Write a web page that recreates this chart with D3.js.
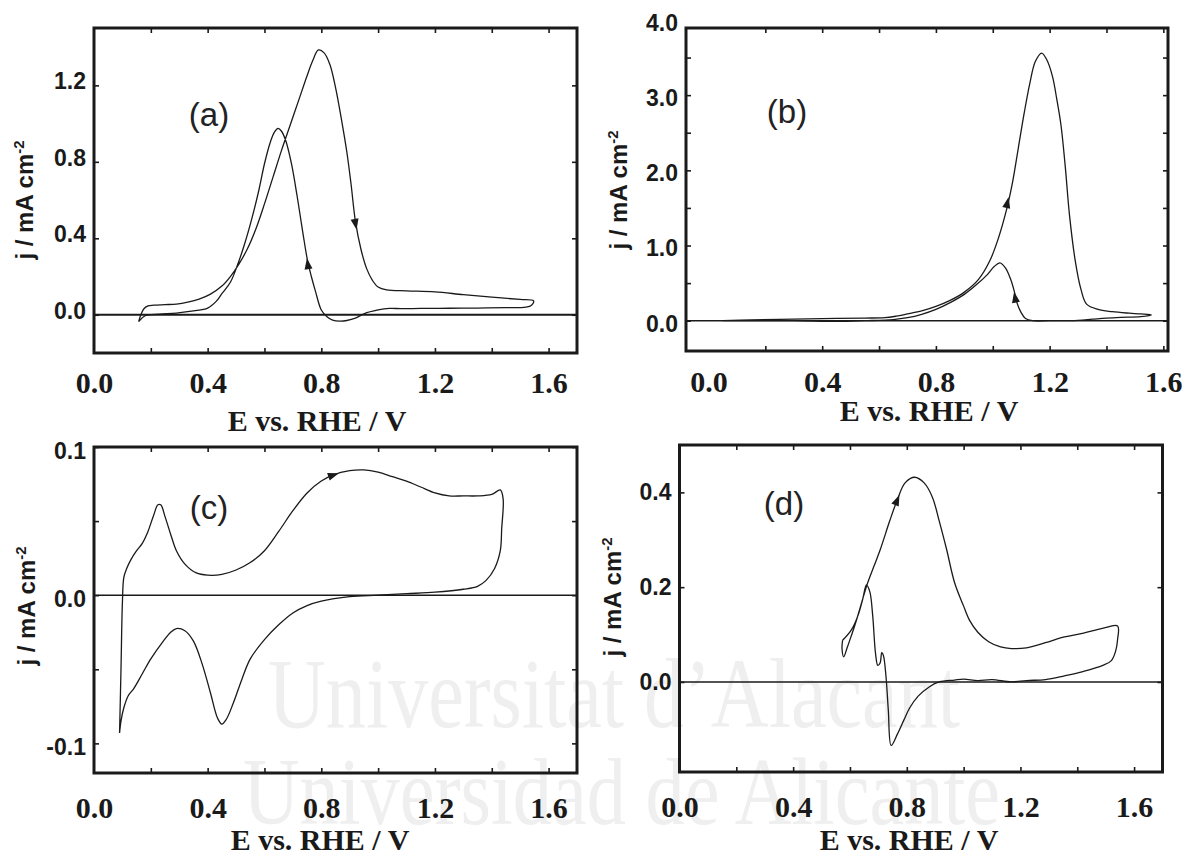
<!DOCTYPE html>
<html>
<head>
<meta charset="utf-8">
<script src="https://cdn.jsdelivr.net/npm/d3@7"></script>
<style>
  body { margin: 0; background: #fff; }
  svg { display: block; }
  .ylab { font-family: "Liberation Sans", Arial, sans-serif; font-weight: bold; font-size: 23px; fill: #1a1a1a; }
  .xlab { font-family: "Liberation Serif", "Times New Roman", serif; font-weight: bold; font-size: 30px; fill: #1a1a1a; }
  .xtitle { font-family: "Liberation Serif", "Times New Roman", serif; font-weight: bold; font-size: 30px; fill: #1a1a1a; }
  .ytitle { font-family: "Liberation Sans", Arial, sans-serif; font-weight: bold; font-size: 24px; fill: #1a1a1a; }
  .letter { font-family: "Liberation Sans", Arial, sans-serif; font-size: 33px; fill: #222; }
  .wm { font-family: "Liberation Serif", "Times New Roman", serif; fill: #efefef; }
</style>
</head>
<body>
<svg id="fig" width="1185" height="857"></svg>
<script>
// ---------- axis values ----------
const xLabelValues = [0.0, 0.4, 0.8, 1.2, 1.6];
const xTickValues = [0.2, 0.4, 0.6, 0.8, 1.0, 1.2, 1.4, 1.6];

const yLabelsA = [0.0, 0.4, 0.8, 1.2];
const yTicksA  = [0.0, 0.4, 0.8, 1.2];
const yLabelsB = [0.0, 1.0, 2.0, 3.0, 4.0];
const yTicksB  = [0.0, 0.5, 1.0, 1.5, 2.0, 2.5, 3.0, 3.5];
const yLabelsC = [-0.1, 0.0, 0.1];
const yTicksC  = [-0.1, -0.05, 0.0, 0.05, 0.1];
const yLabelsD = [0.0, 0.2, 0.4];
const yTicksD  = [-0.2, 0.0, 0.2, 0.4];

// ---------- voltammograms: [E / V, j / mA cm-2] ----------
const curveA = [
  [0.157,-0.036],[0.165,0.000],[0.175,0.030],[0.19,0.046],[0.21,0.050],[0.25,0.053],
  [0.29,0.056],[0.33,0.066],[0.37,0.082],[0.41,0.108],[0.45,0.150],[0.48,0.200],
  [0.51,0.265],[0.54,0.345],[0.57,0.45],[0.60,0.58],[0.63,0.72],[0.66,0.86],
  [0.69,0.99],[0.72,1.12],[0.75,1.25],[0.77,1.33],[0.79,1.385],[0.81,1.37],
  [0.83,1.31],[0.85,1.19],[0.87,1.03],[0.89,0.85],[0.905,0.68],[0.92,0.49],
  [0.94,0.34],[0.96,0.24],[0.98,0.18],[1.00,0.145],[1.03,0.13],[1.10,0.125],
  [1.20,0.12],[1.30,0.105],[1.40,0.092],[1.50,0.08],[1.547,0.073],
  [1.54,0.05],[1.52,0.04],[1.45,0.037],[1.35,0.035],[1.25,0.034],[1.15,0.033],
  [1.08,0.032],[1.04,0.033],[1.00,0.025],[0.95,0.005],[0.92,-0.018],[0.89,-0.03],
  [0.865,-0.033],[0.84,-0.028],[0.82,-0.01],[0.80,0.025],[0.78,0.12],[0.765,0.2],
  [0.752,0.28],[0.735,0.43],[0.715,0.62],[0.695,0.79],[0.675,0.91],[0.66,0.96],
  [0.648,0.975],[0.635,0.955],[0.62,0.90],[0.60,0.79],[0.58,0.65],[0.555,0.50],
  [0.53,0.37],[0.505,0.26],[0.48,0.17],[0.45,0.11],[0.43,0.07],[0.40,0.035],
  [0.35,0.02],[0.29,0.009],[0.23,0.003],[0.18,-0.005],[0.157,-0.036]
];
const arrowsA = [
  [0.921, 0.47, 0.93, 0.40],
  [0.752, 0.27, 0.745, 0.34]
];

const curveB = [
  [0.05,0.0],[0.15,0.01],[0.30,0.02],[0.45,0.03],[0.55,0.035],[0.62,0.04],
  [0.66,0.06],[0.70,0.09],[0.75,0.13],[0.80,0.19],[0.85,0.27],[0.90,0.38],
  [0.95,0.55],[0.99,0.80],[1.02,1.10],[1.05,1.50],[1.07,1.85],[1.09,2.30],
  [1.11,2.75],[1.13,3.15],[1.15,3.45],[1.172,3.56],[1.19,3.47],[1.21,3.25],
  [1.225,2.95],[1.24,2.60],[1.255,2.05],[1.27,1.40],[1.29,0.80],[1.31,0.42],
  [1.33,0.22],[1.37,0.15],[1.42,0.12],[1.48,0.10],[1.52,0.09],[1.558,0.076],
  [1.52,0.055],[1.45,0.045],[1.40,0.035],[1.35,0.02],[1.30,0.005],[1.20,0.0],
  [1.14,0.0],[1.115,0.03],[1.098,0.12],[1.085,0.24],[1.075,0.40],[1.062,0.56],
  [1.045,0.70],[1.025,0.77],[1.005,0.72],[0.98,0.61],[0.94,0.47],[0.90,0.35],
  [0.85,0.24],[0.80,0.15],[0.75,0.085],[0.70,0.04],[0.65,0.015],[0.55,0.0],
  [0.45,-0.01],[0.30,0.0],[0.05,0.0]
];
const arrowsB = [
  [1.052, 1.58, 1.065, 1.80],
  [1.078, 0.32, 1.072, 0.45]
];

const curveC = [
  [0.090,-0.093],[0.095,-0.05],[0.100,-0.005],[0.105,0.012],[0.115,0.018],
  [0.13,0.024],[0.15,0.030],[0.17,0.035],[0.19,0.043],[0.21,0.054],[0.225,0.061],
  [0.235,0.061],[0.25,0.053],[0.27,0.041],[0.29,0.030],[0.32,0.021],[0.36,0.015],
  [0.40,0.0135],[0.45,0.014],[0.50,0.017],[0.55,0.022],[0.60,0.030],[0.65,0.043],
  [0.70,0.057],[0.75,0.069],[0.80,0.077],[0.84,0.081],[0.90,0.084],[0.95,0.0845],
  [1.00,0.083],[1.05,0.080],[1.10,0.077],[1.15,0.073],[1.20,0.069],[1.25,0.067],
  [1.30,0.067],[1.35,0.067],[1.40,0.068],[1.43,0.071],
  [1.44,0.065],[1.435,0.045],[1.43,0.030],[1.41,0.018],[1.38,0.010],[1.35,0.006],
  [1.30,0.004],[1.20,0.002],[1.10,0.001],[1.00,0.0],[0.90,-0.001],[0.80,-0.004],
  [0.75,-0.007],[0.70,-0.012],[0.65,-0.020],[0.60,-0.030],[0.55,-0.043],
  [0.52,-0.057],[0.49,-0.073],[0.465,-0.084],[0.45,-0.087],[0.435,-0.083],
  [0.41,-0.066],[0.38,-0.046],[0.35,-0.031],[0.32,-0.024],[0.29,-0.0225],
  [0.27,-0.025],[0.24,-0.032],[0.20,-0.043],[0.17,-0.053],[0.14,-0.063],
  [0.12,-0.068],[0.105,-0.076],[0.095,-0.085],[0.090,-0.093]
];
const arrowsC = [
  [0.845, 0.0812, 0.88, 0.0835]
];

const curveD = [
  [0.574,0.088],[0.572,0.070],[0.578,0.053],[0.59,0.072],[0.605,0.098],
  [0.62,0.125],[0.64,0.165],[0.66,0.205],[0.685,0.245],[0.707,0.28],[0.74,0.34],
  [0.767,0.385],[0.794,0.42],[0.828,0.432],[0.861,0.42],[0.89,0.39],[0.914,0.34],
  [0.94,0.28],[0.968,0.21],[1.00,0.16],[1.021,0.13],[1.05,0.105],[1.088,0.085],
  [1.13,0.074],[1.168,0.0705],[1.221,0.072],[1.288,0.083],[1.355,0.095],
  [1.422,0.103],[1.488,0.113],[1.542,0.118],
  [1.542,0.09],[1.535,0.065],[1.52,0.045],[1.49,0.035],[1.42,0.022],[1.355,0.013],
  [1.288,0.005],[1.221,0.003],[1.168,0.0],[1.10,0.005],[1.05,0.003],[1.00,0.006],
  [0.968,0.004],[0.914,0.0],[0.88,-0.01],[0.84,-0.03],[0.81,-0.055],[0.79,-0.08],
  [0.767,-0.11],[0.745,-0.134],[0.735,-0.06],[0.727,0.01],[0.718,0.055],
  [0.712,0.062],[0.706,0.04],[0.698,0.035],[0.69,0.06],[0.68,0.14],[0.67,0.19],
  [0.658,0.205],[0.645,0.175],[0.628,0.14],[0.605,0.11],[0.574,0.088]
];
const arrowsD = [
  [0.767, 0.385, 0.785, 0.41]
];

// ---------- layout ----------
const svg = d3.select("#fig");
const fmt = d => d.toFixed(1);

// faint repository watermark behind the panels
svg.append("text").attr("class", "wm")
  .attr("x", 268).attr("y", 727)
  .attr("font-size", 100)
  .attr("textLength", 692).attr("lengthAdjust", "spacingAndGlyphs")
  .text("Universitat d\u2019Alacant");
svg.append("text").attr("class", "wm")
  .attr("x", 243).attr("y", 824)
  .attr("font-size", 96)
  .attr("textLength", 757).attr("lengthAdjust", "spacingAndGlyphs")
  .text("Universidad de Alicante");

const panels = [
  { data: curveA, arrows: arrowsA, letter: "(a)",
    box: { left: 94, right: 577, top: 28, bottom: 353 },
    xDomain: [0, 1.7], yDomain: [-0.2, 1.5],
    yLabels: yLabelsA, yTicks: yTicksA, yLabelShift: -4,
    xLabelPad: 19, xTitle: { x: 317, y: 431 }, yTitle: { x: 33, y: 200 },
    letterPos: { x: 209, y: 126 }, zeroWidth: 2 },
  { data: curveB, arrows: arrowsB, letter: "(b)",
    box: { left: 686, right: 1168, top: 28, bottom: 351 },
    xDomain: [-0.0791, 1.6164], yDomain: [-0.403, 3.893],
    yLabels: yLabelsB, yTicks: yTicksB, yLabelShift: 3,
    xLabelPad: 20, xTitle: { x: 929, y: 421 }, yTitle: { x: 627, y: 190 },
    letterPos: { x: 787, y: 123 }, zeroWidth: 1.5 },
  { data: curveC, arrows: arrowsC, letter: "(c)",
    box: { left: 94, right: 577, top: 447, bottom: 773 },
    xDomain: [0, 1.7], yDomain: [-0.12, 0.1],
    yLabels: yLabelsC, yTicks: yTicksC, yLabelShift: 4,
    xLabelPad: 24, xTitle: { x: 320, y: 850 }, yTitle: { x: 35, y: 606 },
    letterPos: { x: 209, y: 519 }, zeroWidth: 1.5 },
  { data: curveD, arrows: arrowsD, letter: "(d)",
    box: { left: 679.5, right: 1162.5, top: 445, bottom: 772 },
    xDomain: [0, 1.7], yDomain: [-0.19, 0.5],
    yLabels: yLabelsD, yTicks: yTicksD, yLabelShift: 0,
    xLabelPad: 24, xTitle: { x: 909, y: 850 }, yTitle: { x: 621, y: 597 },
    letterPos: { x: 784, y: 515 }, zeroWidth: 1.5 }
];

panels.forEach(p => {
  const b = p.box;
  const g = svg.append("g");
  const x = d3.scaleLinear().domain(p.xDomain).range([b.left, b.right]);
  const y = d3.scaleLinear().domain(p.yDomain).range([b.bottom, b.top]);
  const inX = v => v >= p.xDomain[0] && v <= p.xDomain[1];
  const inY = v => v >= p.yDomain[0] && v <= p.yDomain[1];

  // zero-current baseline
  g.append("line")
    .attr("x1", b.left).attr("x2", b.right)
    .attr("y1", y(0)).attr("y2", y(0))
    .attr("stroke", "#1a1a1a").attr("stroke-width", p.zeroWidth);

  // voltammogram
  const line = d3.line()
    .x(d => x(d[0])).y(d => y(d[1]))
    .curve(d3.curveCatmullRom.alpha(0.5));
  g.append("path").datum(p.data)
    .attr("d", line)
    .attr("fill", "none")
    .attr("stroke", "#1a1a1a")
    .attr("stroke-width", 1.3)
    .attr("stroke-linejoin", "round");

  // scan-direction arrowheads
  p.arrows.forEach(a => {
    const x0 = x(a[0]), y0 = y(a[1]);
    const ang = Math.atan2(y(a[3]) - y0, x(a[2]) - x0) * 180 / Math.PI;
    g.append("path")
      .attr("d", "M5,0 L-6,-4 L-6,4 Z")
      .attr("transform", `translate(${x0},${y0}) rotate(${ang})`)
      .attr("fill", "#1a1a1a");
  });

  // inward ticks on all four sides
  const tickStyle = sel => {
    sel.select(".domain").remove();
    sel.selectAll(".tick line").attr("stroke", "#1a1a1a").attr("stroke-width", 1.6);
  };
  const xt = xTickValues.filter(inX);
  const yt = p.yTicks.filter(inY);
  g.append("g").attr("transform", `translate(0,${b.bottom})`)
    .call(d3.axisBottom(x).tickValues(xt).tickSizeInner(-5).tickSizeOuter(0).tickFormat(""))
    .call(tickStyle);
  g.append("g").attr("transform", `translate(0,${b.top})`)
    .call(d3.axisTop(x).tickValues(xt).tickSizeInner(-5).tickSizeOuter(0).tickFormat(""))
    .call(tickStyle);
  g.append("g").attr("transform", `translate(${b.left},0)`)
    .call(d3.axisLeft(y).tickValues(yt).tickSizeInner(-5).tickSizeOuter(0).tickFormat(""))
    .call(tickStyle);
  g.append("g").attr("transform", `translate(${b.right},0)`)
    .call(d3.axisRight(y).tickValues(yt).tickSizeInner(-5).tickSizeOuter(0).tickFormat(""))
    .call(tickStyle);

  // tick labels
  const xl = g.append("g").attr("transform", `translate(0,${b.bottom})`)
    .call(d3.axisBottom(x).tickValues(xLabelValues).tickSize(0).tickPadding(p.xLabelPad).tickFormat(fmt));
  xl.select(".domain").remove();
  xl.selectAll("text").attr("class", "xlab").attr("font-family", null).attr("font-size", null).attr("fill", null);

  const yl = g.append("g").attr("transform", `translate(${b.left},${p.yLabelShift})`)
    .call(d3.axisLeft(y).tickValues(p.yLabels).tickSize(0).tickPadding(8).tickFormat(fmt));
  yl.select(".domain").remove();
  yl.selectAll("text").attr("class", "ylab").attr("font-family", null).attr("font-size", null).attr("fill", null);

  // plot frame
  g.append("rect")
    .attr("x", b.left).attr("y", b.top)
    .attr("width", b.right - b.left).attr("height", b.bottom - b.top)
    .attr("fill", "none").attr("stroke", "#1a1a1a").attr("stroke-width", 3);

  // axis titles
  g.append("text").attr("class", "xtitle")
    .attr("x", p.xTitle.x).attr("y", p.xTitle.y)
    .attr("text-anchor", "middle")
    .text("E vs. RHE / V");
  const yt2 = g.append("text").attr("class", "ytitle")
    .attr("transform", `translate(${p.yTitle.x},${p.yTitle.y}) rotate(-90)`)
    .attr("text-anchor", "middle");
  yt2.append("tspan").text("j / mA cm");
  yt2.append("tspan").attr("dy", -9).attr("font-size", "15px").text("-2");

  // panel letter
  g.append("text").attr("class", "letter")
    .attr("x", p.letterPos.x).attr("y", p.letterPos.y)
    .attr("text-anchor", "middle")
    .text(p.letter);
});
</script>
</body>
</html>
